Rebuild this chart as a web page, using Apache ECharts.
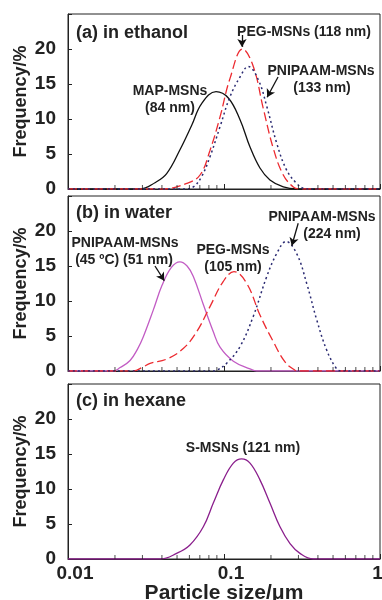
<!DOCTYPE html>
<html>
<head>
<meta charset="utf-8">
<script src="https://cdn.jsdelivr.net/npm/echarts@6/dist/echarts.min.js"></script>
<style>
  html, body { margin: 0; padding: 0; background: #fff; }
  #chart { width: 382px; height: 600px; }
</style>
</head>
<body>
<div id="chart"></div>
<script>
// particle size (um) vs frequency (%)
const ethanolMap = [[0.01, 0], [0.0289, 0], [0.0361, 0.9], [0.0429, 2.2], [0.0522, 5.6], [0.0621, 9.1], [0.0719, 12.2], [0.0889, 13.9], [0.1066, 13.0], [0.1267, 9.9], [0.1468, 6.0], [0.170, 3.0], [0.197, 1.3], [0.240, 0.3], [0.292, 0], [1, 0]];
const ethanolPeg = [[0.01, 0], [0.0406, 0], [0.0577, 0.8], [0.0702, 2.0], [0.0813, 5.5], [0.0943, 10.3], [0.1093, 15.8], [0.1318, 20.0], [0.1541, 17.5], [0.1786, 11.5], [0.2070, 5.8], [0.2399, 2.0], [0.278, 0.3], [0.307, 0], [1, 0]];
const ethanolPnipaam = [[0.01, 0], [0.056, 0], [0.0636, 0.3], [0.0719, 1.8], [0.0813, 4.6], [0.0943, 8.9], [0.1093, 13.2], [0.1267, 16.0], [0.143, 17.5], [0.166, 15.6], [0.188, 11.8], [0.218, 6.5], [0.252, 2.7], [0.292, 0.8], [0.322, 0.1], [0.34, 0], [1, 0]];

const waterPnipaam45 = [[0.01, 0], [0.0195, 0], [0.0216, 0.5], [0.0250, 1.5], [0.0280, 3.2], [0.0304, 4.9], [0.0352, 8.7], [0.0400, 12.2], [0.0460, 14.8], [0.0522, 15.6], [0.0580, 15.0], [0.0636, 13.5], [0.0737, 9.5], [0.0854, 5.6], [0.0943, 3.4], [0.1148, 1.4], [0.1468, 0.3], [0.162, 0], [1, 0]];
const waterPeg = [[0.01, 0], [0.0262, 0], [0.0304, 0.6], [0.0336, 1.1], [0.0429, 1.7], [0.0548, 3.2], [0.0668, 5.6], [0.0813, 9.2], [0.099, 12.8], [0.1159, 14.2], [0.140, 12.5], [0.170, 8.0], [0.207, 4.2], [0.246, 1.3], [0.285, 0.1], [0.298, 0], [1, 0]];
const waterPnipaam = [[0.01, 0], [0.085, 0], [0.0898, 0.1], [0.104, 1.1], [0.1267, 3.5], [0.154, 7.8], [0.188, 13.5], [0.218, 16.8], [0.250, 18.5], [0.292, 16.8], [0.339, 12.5], [0.393, 7.3], [0.455, 3.0], [0.52, 0.5], [0.56, 0], [1, 0]];

const hexaneS = [[0.01, 0], [0.0389, 0], [0.0497, 0.8], [0.0605, 2.0], [0.0737, 4.6], [0.0854, 8.0], [0.099, 11.3], [0.1148, 13.7], [0.1298, 14.3], [0.1468, 13.7], [0.170, 11.3], [0.197, 8.0], [0.2285, 4.6], [0.265, 2.2], [0.307, 0.8], [0.373, 0], [1, 0]];

const minorTickValues = [0.02, 0.03, 0.04, 0.05, 0.06, 0.07, 0.08, 0.09, 0.2, 0.3, 0.4, 0.5, 0.6, 0.7, 0.8, 0.9];
const yTicks = [0, 5, 10, 15, 20];

const FONT = "'Liberation Sans', Arial, sans-serif";
const TXT = '#222';

const chart = echarts.init(document.getElementById('chart'));

const gridTops = [14, 196, 384];
const grids = gridTops.map(t => ({
  left: 68, right: 2, top: t, height: 175,
  outerBoundsMode: 'none', containLabel: false,
  show: true, borderColor: '#222', borderWidth: 1
}));

const xAxes = gridTops.map((t, i) => ({
  type: 'log', logBase: 10, min: 0.01, max: 1, gridIndex: i,
  axisLine: { show: true, lineStyle: { color: '#222', width: 1 } },
  axisTick: { show: true, inside: true, length: 5, lineStyle: { color: '#222' } },
  splitLine: { show: false },
  axisLabel: {
    show: i === 2, color: TXT, fontFamily: FONT, fontWeight: 'bold', fontSize: 19, margin: 5,
    formatter: v => (v >= 1 ? '{r|' + v + '}' : '{n|' + v + '}'),
    rich: {
      n: { fontFamily: FONT, fontWeight: 'bold', fontSize: 19, color: TXT, padding: [0, 0, 0, 14] },
      r: { fontFamily: FONT, fontWeight: 'bold', fontSize: 19, color: TXT, padding: [0, 5, 0, 0] }
    }
  },
  name: i === 2 ? 'Particle size/\u03bcm' : '',
  nameLocation: 'middle', nameGap: 24, nameMoveOverlap: false,
  nameTextStyle: { color: TXT, fontFamily: FONT, fontWeight: 'bold', fontSize: 21 }
}));

const yAxes = gridTops.map((t, i) => ({
  type: 'value', min: 0, max: 25, interval: 5, gridIndex: i,
  axisLine: { show: true, lineStyle: { color: '#222', width: 1 } },
  axisTick: { show: true, inside: true, length: 4, lineStyle: { color: '#222' } },
  splitLine: { show: false },
  axisLabel: {
    color: TXT, fontFamily: FONT, fontWeight: 'bold', fontSize: 19, margin: 12,
    formatter: v => (yTicks.includes(v) ? String(v) : '')
  },
  name: 'Frequency/%', nameLocation: 'middle', nameGap: 38, nameMoveOverlap: false,
  nameTextStyle: { color: TXT, fontFamily: FONT, fontWeight: 'bold', fontSize: 18 }
}));

function curve(data, idx, color, type, width) {
  return {
    type: 'line', data, xAxisIndex: idx, yAxisIndex: idx,
    showSymbol: false, smooth: 0.4, silent: true,
    lineStyle: { color, width: width || 1.3, type }
  };
}

function arrow(idx, from, to) {
  return {
    type: 'line', data: [], xAxisIndex: idx, yAxisIndex: idx, silent: true,
    markLine: {
      silent: true, symbol: ['none', 'arrow'], symbolSize: [7, 8],
      label: { show: false },
      lineStyle: { color: '#111', width: 1.3, type: 'solid' },
      data: [[{ coord: from }, { coord: to }]]
    }
  };
}

const tickSeries = [0, 1, 2].map(i => ({
  type: 'scatter', xAxisIndex: i, yAxisIndex: i, silent: true,
  data: minorTickValues.map(v => [v, 0]),
  symbol: 'rect', symbolSize: [1, 4], symbolOffset: [0, -2],
  itemStyle: { color: '#222' }, z: 5
}));

const pink = '#c25cc4';
const red = '#ec2a30';
const navy = '#2a2a72';

const series = [
  curve(ethanolMap, 0, '#111', 'solid'),
  curve(ethanolPeg, 0, red, [9, 4]),
  curve(ethanolPnipaam, 0, navy, [2, 3], 1.5),
  arrow(0, [0.1304, 22.0], [0.1304, 20.3]),
  arrow(0, [0.222, 16.0], [0.189, 13.1]),
  curve(waterPnipaam45, 1, pink, 'solid'),
  curve(waterPeg, 1, red, [9, 4]),
  curve(waterPnipaam, 1, navy, [2, 3], 1.5),
  arrow(1, [0.299, 21.1], [0.272, 17.9]),
  arrow(1, [0.0361, 15.0], [0.0414, 12.9]),
  curve(hexaneS, 2, '#8a1e8c', 'solid'),
  ...tickSeries
];

function label(text, x, y, size, align) {
  return {
    type: 'text', silent: true, z: 10,
    style: {
      text, x, y, fill: TXT, font: `bold ${size}px ${FONT}`,
      textAlign: align || 'left', textVerticalAlign: 'middle'
    }
  };
}

const graphic = [
  label('(a) in ethanol', 76, 33, 18),
  label('PEG-MSNs (118 nm)', 304, 32, 14, 'center'),
  label('PNIPAAM-MSNs', 321, 71, 14, 'center'),
  label('(133 nm)', 322, 88, 14, 'center'),
  label('MAP-MSNs', 170, 91, 14, 'center'),
  label('(84 nm)', 170, 108, 14, 'center'),
  label('(b) in water', 76, 213, 18),
  label('PNIPAAM-MSNs', 322, 217, 14, 'center'),
  label('(224 nm)', 332, 234, 14, 'center'),
  label('PNIPAAM-MSNs', 125, 243, 14, 'center'),
  label('(45 \u00baC) (51 nm)', 124, 260, 14, 'center'),
  label('PEG-MSNs', 233, 250, 14, 'center'),
  label('(105 nm)', 233, 267, 14, 'center'),
  label('(c) in hexane', 76, 401, 18),
  label('S-MSNs (121 nm)', 243, 448, 14, 'center')
];

chart.setOption({
  backgroundColor: '#fff',
  animation: false,
  grid: grids,
  xAxis: xAxes,
  yAxis: yAxes,
  series,
  graphic
});
</script>
</body>
</html>
